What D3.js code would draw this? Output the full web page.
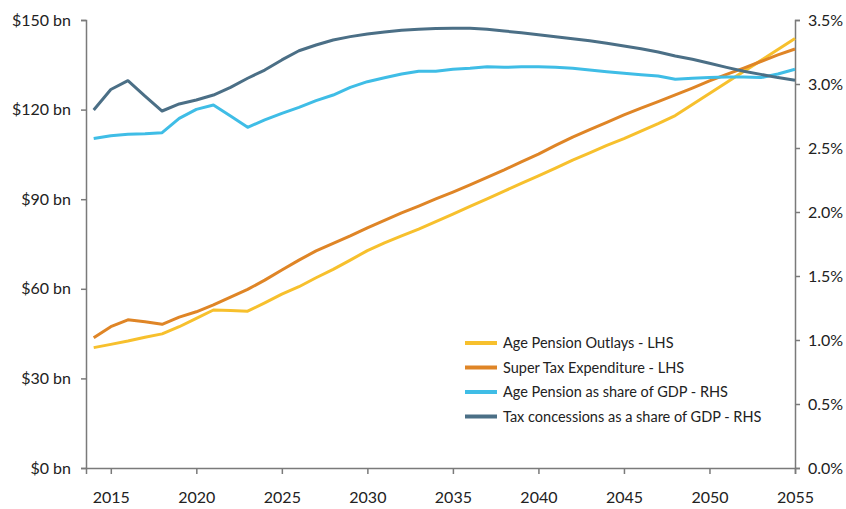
<!DOCTYPE html>
<html>
<head>
<meta charset="utf-8">
<script src="https://cdn.jsdelivr.net/npm/d3@7"></script>
<style>
  body { margin: 0; background: #fff; }
  text { font-family: Lato, "Liberation Sans", sans-serif; fill: #222; }
</style>
</head>
<body>
<svg id="mainsvg" width="846" height="509"></svg>
<script>
const years = d3.range(2014, 2056)

// LHS, $ bn
const agePensionOutlays = [40.3,41.4,42.5,43.8,44.9,47.3,50.1,52.9,52.7,52.5,55.3,58.2,60.7,63.7,66.5,69.6,72.8,75.4,77.7,80.0,
  82.5,85.0,87.6,90.1,92.7,95.3,97.8,100.4,103.1,105.5,108.0,110.3,112.8,115.3,118.0,121.7,125.4,129.1,132.8,136.4,140.1,143.8]
const superTaxExpenditure = [43.6,47.3,49.6,49.0,48.1,50.5,52.3,54.6,57.2,59.8,62.9,66.3,69.6,72.7,75.2,77.7,80.4,82.9,85.4,87.7,
  90.1,92.4,94.8,97.3,99.8,102.5,105.1,108.0,110.8,113.3,115.7,118.2,120.5,122.7,124.9,127.2,129.6,131.8,133.9,136.1,138.3,140.3]

// RHS, % of GDP
const agePensionShare = [2.574,2.596,2.607,2.612,2.62,2.732,2.802,2.836,2.75,2.662,2.719,2.771,2.818,2.87,2.914,2.974,3.018,3.049,3.078,3.10,
  3.10,3.115,3.123,3.135,3.13,3.135,3.135,3.13,3.123,3.11,3.096,3.084,3.073,3.062,3.037,3.045,3.05,3.055,3.055,3.05,3.078,3.115]
const taxConcessionShare = [2.797,2.957,3.026,2.906,2.789,2.844,2.875,2.914,2.974,3.045,3.109,3.188,3.26,3.305,3.344,3.37,3.39,3.406,3.42,3.427,
  3.434,3.435,3.435,3.427,3.414,3.40,3.385,3.37,3.354,3.338,3.318,3.297,3.276,3.25,3.219,3.193,3.162,3.13,3.10,3.075,3.05,3.03]

const xTicks = [2015,2020,2025,2030,2035,2040,2045,2050,2055]
const leftTicks = [0,30,60,90,120,150]
const rightTicks = [0,0.5,1,1.5,2,2.5,3,3.5]

const seriesNames = ['Age Pension Outlays - LHS','Super Tax Expenditure - LHS','Age Pension as share of GDP - RHS','Tax concessions as a share of GDP - RHS']
const seriesColors = ['#f7c02d','#df8526','#3fbde6','#4b6f86']

const plotLeft = 86, plotRight = 795, plotTop = 20, plotBottom = 468
const axisColor = '#7a7a7a'

const svg = d3.select('#mainsvg')

const x = d3.scaleLinear().domain([2013.55, 2055]).range([plotLeft, plotRight])
const yL = d3.scaleLinear().domain([0, 150]).range([plotBottom, plotTop])
const yR = d3.scaleLinear().domain([0, 3.5]).range([plotBottom, plotTop])

// axes
const gx = svg.append('g').attr('transform', `translate(0,${plotBottom})`)
  .call(d3.axisBottom(x).tickValues(xTicks).tickFormat(d3.format('d')).tickSizeOuter(0).tickSize(6).tickPadding(18))
const gl = svg.append('g').attr('transform', `translate(${plotLeft},0)`)
  .call(d3.axisLeft(yL).tickValues(leftTicks).tickFormat(d => `$${d} bn`).tickSizeOuter(0).tickSize(5).tickPadding(10))
const gr = svg.append('g').attr('transform', `translate(${plotRight},0)`)
  .call(d3.axisRight(yR).tickValues(rightTicks).tickFormat(d => d3.format('.1f')(d) + '%').tickSizeOuter(0).tickSize(5).tickPadding(8))

for (const g of [gx, gl, gr]) {
  g.select('.domain').attr('stroke', axisColor).attr('stroke-width', 1.5)
  g.selectAll('.tick line').attr('stroke', axisColor).attr('stroke-width', 1.5)
  g.selectAll('.tick text').attr('font-size', 16).attr('font-family', 'Lato, "Liberation Sans", sans-serif').attr('fill', '#222')
}

// lines
const lineL = d3.line().x((d, i) => x(years[i])).y(d => yL(d))
const lineR = d3.line().x((d, i) => x(years[i])).y(d => yR(d))

const seriesData = [
  [agePensionOutlays, lineL],
  [superTaxExpenditure, lineL],
  [agePensionShare, lineR],
  [taxConcessionShare, lineR]
]

seriesData.forEach(([vals, line], i) => {
  svg.append('path')
    .attr('d', line(vals))
    .attr('fill', 'none')
    .attr('stroke', seriesColors[i])
    .attr('stroke-width', 3)
    .attr('stroke-linejoin', 'round')
})

// legend
const legend = svg.append('g').attr('transform', 'translate(465,343)')
seriesNames.forEach((name, i) => {
  const row = legend.append('g').attr('transform', `translate(0,${i * 24.5})`)
  row.append('line')
    .attr('x1', 0).attr('x2', 32).attr('y1', 0).attr('y2', 0)
    .attr('stroke', seriesColors[i]).attr('stroke-width', 4)
  row.append('text')
    .attr('x', 38).attr('y', 0).attr('dy', '0.35em')
    .attr('font-size', 14.5)
    .text(name)
})
</script>
</body>
</html>
